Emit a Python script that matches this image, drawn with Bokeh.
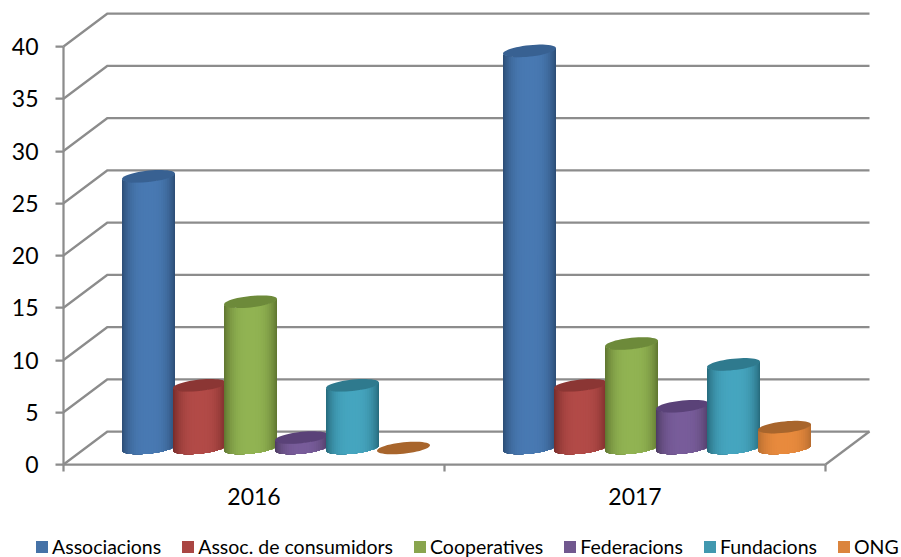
import math
from bokeh.plotting import figure
from bokeh.models import ColumnDataSource, FixedTicker, Legend, LegendItem, Range1d
from bokeh.embed import file_html
from bokeh.resources import INLINE

years = ["2016", "2017"]
series = ["Associacions", "Assoc. de consumidors", "Cooperatives", "Federacions", "Fundacions", "ONG"]
values_2016 = [26, 6, 14, 1, 6, 0]
values_2017 = [38, 6, 10, 4, 8, 2]
y_ticks = [0, 5, 10, 15, 20, 25, 30, 35, 40]
legend_colors = ["#4572a7", "#aa4643", "#89a54e", "#71588f", "#4198af", "#db843d"]
center_colors = ["#4879b2", "#b24a47", "#91b352", "#785c9a", "#45a5bf", "#e88a3d"]
edge_colors = ["#2c4d75", "#772c2a", "#5f7530", "#4d3b62", "#276a7c", "#b66d31"]
top_colors = ["#386192", "#8b3634", "#6d8a3a", "#5a4278", "#2f7a8e", "#a8652c"]

PX_X = 381.0      # pixels per category
PX_Y = 10.45      # pixels per value unit
DEPTH_X = 22 / PX_X
DEPTH_Y = 16.5 / PX_Y
PITCH = 51 / PX_X
A = 26.5 / PX_X
B = 5.7 / PX_Y
C = 2.7 / PX_Y
GRID = "#8c8c8c"
GRID_W = 2.25
FONT = "Lato"
NAN = float("nan")


def hex_rgb(h):
    return [int(h[i:i + 2], 16) for i in (1, 3, 5)]


def mix(a, b, f):
    ca, cb = hex_rgb(a), hex_rgb(b)
    return "#%02x%02x%02x" % tuple(round(x + (y - x) * f) for x, y in zip(ca, cb))


p = figure(width=901, height=557, output_backend="svg", toolbar_location=None,
           x_range=Range1d(-63 / PX_X, (901 - 63) / PX_X),
           y_range=Range1d(-(557 - 464) / PX_Y, 464 / PX_Y),
           min_border=0, outline_line_color=None, background_fill_color="white")
p.grid.visible = False

# walls and floor
gx, gy = [], []
for v in y_ticks:
    gx.append([0, 2 * DEPTH_X, 2 + 2 * DEPTH_X])
    gy.append([v, v + 2 * DEPTH_Y, v + 2 * DEPTH_Y])
gx.append([2, 2 + 2 * DEPTH_X])
gy.append([0, 2 * DEPTH_Y])
p.multi_line(gx, gy, line_color=GRID, line_width=GRID_W)

# cylinders: each strip runs to the right edge and is painted over by the next
xs, ys, fills = [], [], []
N = 32
for cat, vals in enumerate([values_2016, values_2017]):
    for i, v in enumerate(vals):
        cx = cat + 0.5 + (i - 2.5) * PITCH + DEPTH_X
        base = DEPTH_Y
        if v > 0:
            ts = [math.pi + math.pi * j / N for j in range(N + 1)]
            bx = [cx + A * math.cos(t) for t in ts]
            by = [base + B * math.sin(t) + C * math.cos(t) for t in ts]
            for j in range(N):
                xs.append(bx[j:] + bx[j:][::-1])
                ys.append(by[j:] + [q + v for q in by[j:]][::-1])
                s = abs((math.cos(ts[j]) + math.cos(ts[j + 1])) / 2)
                fills.append(mix(center_colors[i], edge_colors[i], s ** 3))
        ex, ey = [], []
        for k in range(48):
            t = 2 * math.pi * k / 48
            ex.append(cx + A * math.cos(t))
            ey.append(base + v + B * math.sin(t) + C * math.cos(t))
        xs.append(ex)
        ys.append(ey)
        fills.append(top_colors[i])

src = ColumnDataSource(dict(xs=xs, ys=ys, fill=fills))
p.patches("xs", "ys", source=src, fill_color="fill", line_color=None)

# axes
ya = p.yaxis[0]
ya.fixed_location = 0
ya.ticker = FixedTicker(ticks=y_ticks)
ya.bounds = (0, 40)
ya.axis_line_color = GRID
ya.axis_line_width = GRID_W
ya.major_tick_line_color = GRID
ya.major_tick_line_width = GRID_W
ya.major_tick_out = 8
ya.major_tick_in = 0
ya.minor_tick_line_color = None
ya.major_label_text_font = FONT
ya.major_label_text_font_size = "23px"
ya.major_label_text_color = "#000000"
ya.major_label_standoff = 17

xa = p.xaxis[0]
xa.fixed_location = 0
xa.ticker = FixedTicker(ticks=[0.5, 1.5], minor_ticks=[0, 1, 2])
xa.major_label_overrides = {0.5: years[0], 1.5: years[1]}
xa.bounds = (0, 2)
xa.axis_line_color = GRID
xa.axis_line_width = GRID_W
xa.major_tick_line_color = None
xa.major_tick_out = 0
xa.major_tick_in = 0
xa.minor_tick_line_color = GRID
xa.minor_tick_line_width = GRID_W
xa.minor_tick_out = 7
xa.minor_tick_in = 0
xa.major_label_text_font = FONT
xa.major_label_text_font_size = "23px"
xa.major_label_text_color = "#000000"
xa.major_label_standoff = 16

# legend
items = []
for name, col in zip(series, legend_colors):
    r = p.quad(left=[NAN], right=[NAN], top=[NAN], bottom=[NAN], fill_color=col, line_color=None)
    items.append(LegendItem(label=name, renderers=[r]))
legend = Legend(items=items, orientation="horizontal", location=(34, -1),
                glyph_width=15, glyph_height=15, label_standoff=3, spacing=19,
                padding=0, margin=0, border_line_color=None, background_fill_alpha=0,
                label_text_font=FONT, label_text_font_size="19.5px", label_text_color="#000000")
p.add_layout(legend, "center")

open("out.html", "w").write(file_html(p, INLINE))
